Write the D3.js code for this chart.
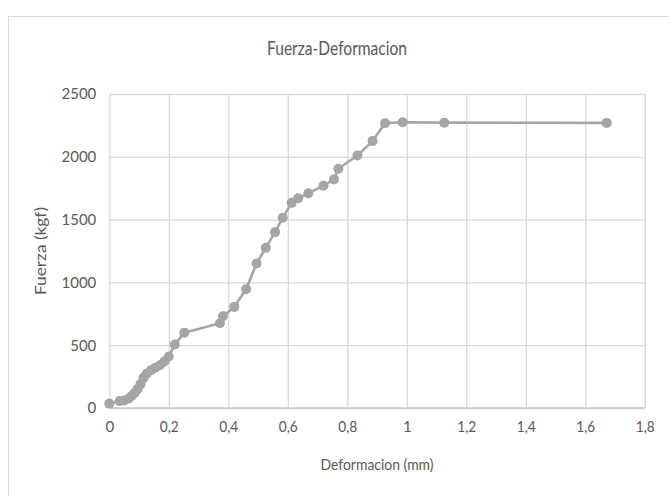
<!DOCTYPE html>
<html><head><meta charset="utf-8">
<script src="https://cdn.jsdelivr.net/npm/d3@7"></script>
<style>
html,body{margin:0;padding:0;background:#fff;}
svg{display:block;font-family:Lato,"Open Sans",sans-serif;}
</style></head>
<body>
<script>
const deformacion = [0, 0.035, 0.05, 0.065, 0.075, 0.085, 0.095, 0.105, 0.115, 0.125, 0.14, 0.155, 0.17, 0.185, 0.2, 0.22, 0.252, 0.372, 0.382, 0.42, 0.46, 0.495, 0.526, 0.557, 0.583, 0.613, 0.635, 0.669, 0.72, 0.755, 0.77, 0.834, 0.885, 0.927, 0.986, 1.126, 1.672];
const fuerza = [35, 55, 60, 75, 95, 120, 150, 190, 240, 270, 300, 320, 340, 370, 410, 505, 600, 675, 730, 805, 945, 1150, 1275, 1400, 1515, 1635, 1670, 1710, 1770, 1820, 1905, 2010, 2125, 2268, 2275, 2272, 2270];
const xTicks = [0, 0.2, 0.4, 0.6, 0.8, 1, 1.2, 1.4, 1.6, 1.8];
const yTicks = [0, 500, 1000, 1500, 2000, 2500];
const chartTitle = "Fuerza-Deformacion";
const xTitle = "Deformacion (mm)";
const yTitle = "Fuerza (kgf)";

const W = 669, H = 496;
const svg = d3.select("body").append("svg").attr("width", W).attr("height", H);

// chart frame
svg.append("rect").attr("x", 8.5).attr("y", 16.5).attr("width", 700).attr("height", 520)
  .attr("fill", "#fff").attr("stroke", "#d9d9d9").attr("stroke-width", 1);

const x = d3.scaleLinear().domain([0, 1.8]).range([109.3, 644.8]);
const y = d3.scaleLinear().domain([0, 2500]).range([408, 94]);
const fmtX = d => String(d).replace(".", ",");
const fmtY = d => String(d);

// grid
const gx = svg.append("g").attr("transform", `translate(0,${y(0)})`)
  .call(d3.axisBottom(x).tickValues(xTicks).tickFormat(fmtX).tickSize(-(y(0) - y(2500))).tickPadding(13));
gx.select(".domain").remove();
gx.selectAll(".tick line").attr("stroke", "#d9d9d9").attr("stroke-width", 1.3);
gx.selectAll(".tick text").attr("fill", "#595959").style("font-size", "15px").style("font-family", "Lato")
  .attr("textLength", d => fmtX(d).length > 1 ? 19 : null).attr("lengthAdjust", "spacingAndGlyphs");

const gy = svg.append("g").attr("transform", `translate(${x(0)},0)`)
  .call(d3.axisLeft(y).tickValues(yTicks).tickFormat(fmtY).tickSize(-(x(1.8) - x(0))).tickPadding(13));
gy.select(".domain").remove();
gy.selectAll(".tick line").attr("stroke", "#d9d9d9").attr("stroke-width", 1.3);
gy.selectAll(".tick text").attr("fill", "#595959").style("font-size", "15px").style("font-family", "Lato");

// axis line
svg.append("line").attr("x1", x(0)).attr("x2", x(1.8)).attr("y1", y(0)).attr("y2", y(0))
  .attr("stroke", "#c8c8c8").attr("stroke-width", 1.5);

// titles
svg.append("text").attr("x", 337).attr("y", 55).attr("text-anchor", "middle")
  .attr("fill", "#595959").style("font-size", "20px")
  .attr("textLength", 140).attr("lengthAdjust", "spacingAndGlyphs").text(chartTitle);
svg.append("text").attr("x", (x(0) + x(1.8)) / 2).attr("y", 470).attr("text-anchor", "middle")
  .attr("fill", "#595959").style("font-size", "16px")
  .attr("textLength", 113).attr("lengthAdjust", "spacingAndGlyphs").text(xTitle);
svg.append("text").attr("transform", `translate(46,${(y(0) + y(2500)) / 2}) rotate(-90)`)
  .attr("text-anchor", "middle").attr("fill", "#595959").style("font-size", "16px")
  .attr("textLength", 88).attr("lengthAdjust", "spacingAndGlyphs").text(yTitle);

// series
const pts = deformacion.map((d, i) => [d, fuerza[i]]);
svg.append("path").datum(pts)
  .attr("d", d3.line().x(d => x(d[0])).y(d => y(d[1])))
  .attr("fill", "none").attr("stroke", "#a5a5a5").attr("stroke-width", 2.6).attr("stroke-linejoin", "round");
svg.append("g").selectAll("circle").data(pts).join("circle")
  .attr("cx", d => x(d[0])).attr("cy", d => y(d[1])).attr("r", 5)
  .attr("fill", "#a5a5a5");
</script>
</body></html>
